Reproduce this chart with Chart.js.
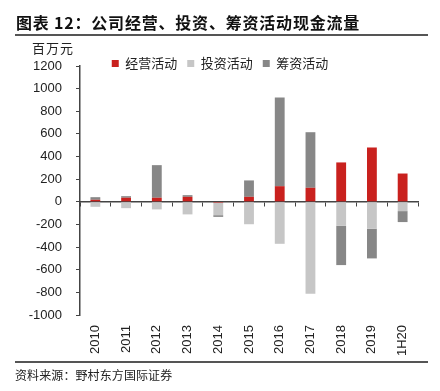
<!DOCTYPE html>
<html>
<head>
<meta charset="utf-8">
<script src="https://cdn.jsdelivr.net/npm/chart.js@4/dist/chart.umd.min.js"></script>
<style>
  html, body { margin: 0; padding: 0; background: #fff; }
  #wrap { position: relative; width: 440px; height: 391px; overflow: hidden; }
  #c { position: absolute; left: 0; top: 0; }
  .txt { position: absolute; white-space: nowrap; color: #111; font-family: "Noto Sans CJK SC", sans-serif; z-index: 2; }
  #title { left: 16px; top: 10px; font-size: 16px; font-weight: bold; letter-spacing: 0.8px; }
  #unit { left: 32px; top: 38px; font-size: 13px; color: #222; letter-spacing: 1px; }
  #src { left: 15px; top: 366px; font-size: 12px; color: #222; letter-spacing: 0.1px; }
  .rule { position: absolute; left: 15px; width: 413px; height: 2px; background: #555; z-index: 2; }
</style>
</head>
<body>
<div id="wrap">
  <canvas id="c" width="440" height="391"></canvas>
  <div class="txt" id="title">图表 12：公司经营、投资、筹资活动现金流量</div>
  <div class="rule" style="top:34px"></div>
  <div class="txt" id="unit">百万元</div>
  <div class="rule" style="top:361px"></div>
  <div class="txt" id="src">资料来源：野村东方国际证券</div>
</div>
<script>
// ---- data ----
const categories = ["2010","2011","2012","2013","2014","2015","2016","2017","2018","2019","1H20"];
const seriesNames = ["经营活动","投资活动","筹资活动"];
const operating = [18, 36, 36, 44, -9, 44, 138, 124, 348, 480, 250];
const investing = [-44, -56, -67, -111, -109, -198, -371, -812, -212, -238, -82];
const financing = [23, 14, 288, 15, -15, 145, 783, 491, -347, -262, -97];
const yTickMin = -1000, yTickMax = 1200, yTickStep = 200;

const colors = ["#C9211E", "#C6C6C6", "#878787"];

const legendMover = {
  id: 'legendMover',
  afterLayout(chart) {
    const l = chart.legend;
    if (!l) return;
    l.left = 10; l.right = 430; l.width = 420;
    l.top = 47; l.bottom = 80; l.height = 33;
  }
};

new Chart(document.getElementById('c'), {
  type: 'bar',
  data: {
    labels: categories,
    datasets: [
      { label: seriesNames[0], data: operating, backgroundColor: colors[0], xAxisID: 'x' },
      { label: seriesNames[1], data: investing, backgroundColor: colors[1], xAxisID: 'x' },
      { label: seriesNames[2], data: financing, backgroundColor: colors[2], xAxisID: 'x' }
    ]
  },
  options: {
    responsive: false,
    animation: false,
    devicePixelRatio: 1,
    layout: { padding: { left: 22, right: 22, top: 65, bottom: 36 } },
    datasets: { bar: { categoryPercentage: 1.0, barPercentage: 0.32 } },
    plugins: {
      tooltip: { enabled: false },
      title: { display: false },
      legend: {
        position: 'top',
        align: 'center',
        maxHeight: 1,
        labels: {
          boxWidth: 7, boxHeight: 7, padding: 10,
          color: '#222',
          font: { family: '"Noto Sans CJK SC", sans-serif', size: 13 }
        }
      }
    },
    scales: {
      x: {
        type: 'category',
        position: 'bottom',
        stacked: true,
        offset: true,
        grid: { display: false, drawTicks: false },
        border: { display: false },
        ticks: {
          autoSkip: false, minRotation: 90, maxRotation: 90, padding: 10,
          color: '#222',
          font: { family: '"Liberation Sans", Arial, sans-serif', size: 13 }
        },
        afterFit: (s) => { s.height = 40; }
      },
      x2: {
        type: 'category',
        labels: categories,
        position: { y: 0 },
        offset: true,
        z: 1,
        grid: { display: true, drawOnChartArea: false, drawTicks: true, tickLength: 4, offset: true, color: '#444', lineWidth: 1 },
        border: { display: true, color: '#444', width: 1.5 },
        ticks: { display: false },
        afterFit: (s) => { s.height = 0; }
      },
      y: {
        stacked: true,
        min: yTickMin, max: yTickMax,
        grid: { display: true, drawOnChartArea: false, drawTicks: true, tickLength: 4, color: '#444' },
        border: { display: true, color: '#444', width: 1.5 },
        ticks: {
          stepSize: yTickStep, padding: 14,
          color: '#222',
          font: { family: '"Liberation Sans", Arial, sans-serif', size: 13 },
          callback: (v) => String(v)
        },
        afterFit: (s) => { s.width = 58; }
      }
    }
  },
  plugins: [legendMover]
});
</script>
</body>
</html>
